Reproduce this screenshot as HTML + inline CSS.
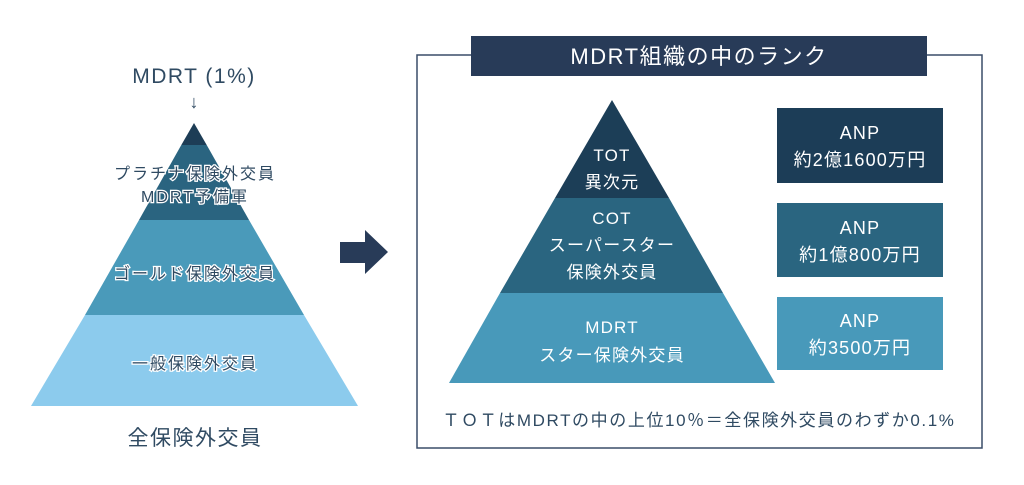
<!DOCTYPE html>
<html><head><meta charset="utf-8"><style>
html,body{margin:0;padding:0;background:#fff;}
svg{display:block;}
text{font-family:"Liberation Sans","Noto Sans CJK JP",sans-serif;}
</style></head><body>
<svg width="1024" height="485" viewBox="0 0 1024 485" xmlns="http://www.w3.org/2000/svg">
<!-- Left pyramid -->
<polygon points="194,123 206.7,145 181.3,145" fill="#1d3d56"/>
<polygon points="181.3,145 206.7,145 249,220 139,220" fill="#2a6480"/>
<polygon points="139,220 249,220 304,315 85,315" fill="#4a9aba"/>
<polygon points="85,315 304,315 358,406 31,406" fill="#8ccbed"/>
<text x="194" y="83" font-size="21" fill="#2f4a62" text-anchor="middle" letter-spacing="1.5">MDRT (1%)</text>
<text x="194" y="108" font-size="18" fill="#2f4a62" text-anchor="middle">↓</text>
<g font-size="16" fill="#2f4a62" text-anchor="middle" stroke="#fff" stroke-width="2.5" paint-order="stroke" letter-spacing="2">
<text x="195" y="179">プラチナ保険外交員</text>
<text x="195" y="202">MDRT予備軍</text>
<text x="195" y="279">ゴールド保険外交員</text>
<text x="195" y="369">一般保険外交員</text>
</g>
<text x="195" y="445" font-size="21" fill="#2f4a62" text-anchor="middle" letter-spacing="1.5">全保険外交員</text>
<!-- Arrow -->
<polygon points="340,242 365,242 365,230 388,252 365,274 365,263 340,263" fill="#283b58"/>
<!-- Right frame -->
<rect x="417" y="55" width="565" height="393" fill="none" stroke="#3a4d68" stroke-width="1.5"/>
<rect x="471" y="36" width="456" height="40" fill="#283b58"/>
<text x="699" y="64" font-size="22" fill="#fff" text-anchor="middle" letter-spacing="1.5">MDRT組織の中のランク</text>
<!-- Right pyramid -->
<polygon points="612,100 669,198 555,198" fill="#1c3e57"/>
<polygon points="555,198 669,198 723,293 500,293" fill="#2a6580"/>
<polygon points="500,293 723,293 775,383 449,383" fill="#4899ba"/>
<g font-size="17" fill="#fff" text-anchor="middle" letter-spacing="1.2">
<text x="612" y="161">TOT</text>
<text x="612" y="188">異次元</text>
<text x="612" y="224">COT</text>
<text x="612" y="251">スーパースター</text>
<text x="612" y="278">保険外交員</text>
<text x="612" y="333">MDRT</text>
<text x="612" y="361">スター保険外交員</text>
</g>
<rect x="777" y="108" width="166" height="75" fill="#1c3d57"/>
<rect x="777" y="203" width="166" height="74" fill="#2a6580"/>
<rect x="777" y="297" width="166" height="73" fill="#4899ba"/>
<g font-size="18" fill="#fff" text-anchor="middle" letter-spacing="1.2">
<text x="860" y="139">ANP</text>
<text x="860" y="166">約2億1600万円</text>
<text x="860" y="234">ANP</text>
<text x="860" y="261">約1億800万円</text>
<text x="860" y="327">ANP</text>
<text x="860" y="354">約3500万円</text>
</g>
<text x="699" y="426" font-size="17" fill="#2f4a62" text-anchor="middle" letter-spacing="1.6">ＴＯＴはMDRTの中の上位10％＝全保険外交員のわずか0.1%</text>
</svg>
</body></html>
